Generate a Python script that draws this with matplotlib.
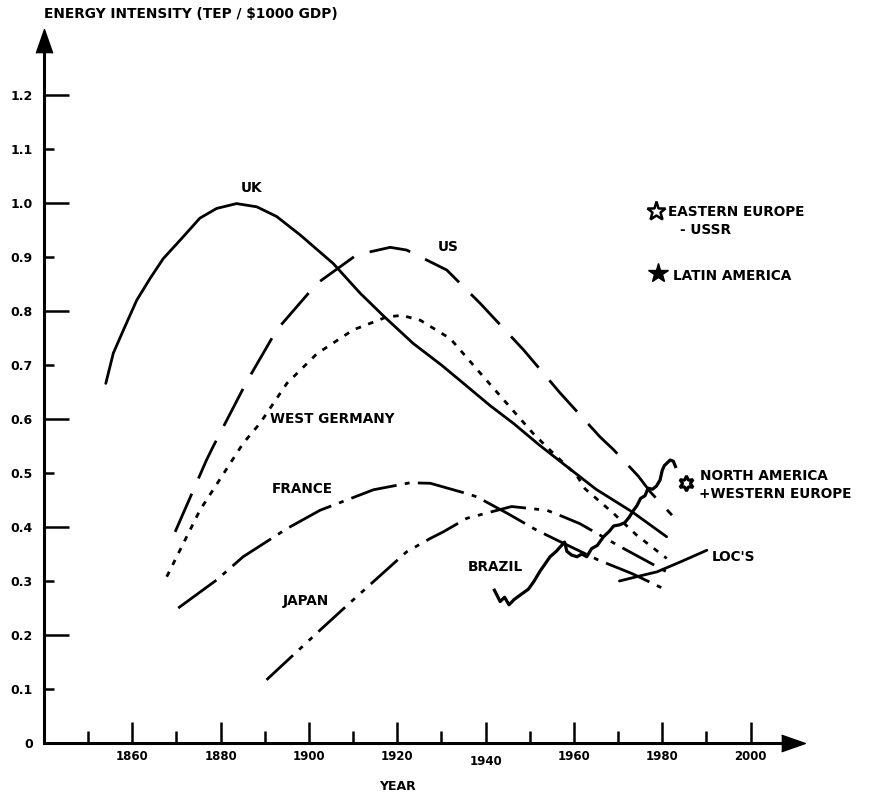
import matplotlib
matplotlib.use("Agg")
import matplotlib.pyplot as plt

# values (year, TEP / $1000 GDP)
uk_year = [1854.0, 1855.7, 1858.0, 1861.0, 1864.0, 1867.0, 1870.8, 1875.3, 1879.1,
           1883.6, 1888.2, 1892.7, 1898.0, 1905.5, 1911.6, 1917.0, 1923.6, 1930.0,
           1935.0, 1941.0, 1946.3, 1952.0, 1958.4, 1965.0, 1973.2, 1981.0]
uk_val = [0.666, 0.722, 0.765, 0.820, 0.860, 0.897, 0.931, 0.972, 0.990,
          0.999, 0.993, 0.975, 0.941, 0.888, 0.833, 0.790, 0.740, 0.700,
          0.666, 0.625, 0.592, 0.553, 0.512, 0.470, 0.428, 0.382]

us_year = [1869.7, 1876.8, 1878.3, 1885.9, 1892.7, 1901.8, 1910.8, 1918.4, 1922.1,
           1931.2, 1938.8, 1948.6, 1956.9, 1965.9, 1969.0, 1974.6, 1977.3, 1982.2]
us_val = [0.391, 0.524, 0.549, 0.669, 0.765, 0.851, 0.904, 0.918, 0.913,
          0.876, 0.814, 0.728, 0.648, 0.567, 0.543, 0.494, 0.465, 0.422]

wg_year = [1867.8, 1875.3, 1885.1, 1888.9, 1895.0, 1901.8, 1910.0, 1917.6, 1921.0,
           1925.2, 1932.0, 1938.8, 1944.8, 1950.8, 1955.4, 1960.6, 1962.5, 1969.0,
           1974.2, 1981.0]
wg_val = [0.308, 0.431, 0.555, 0.592, 0.666, 0.721, 0.765, 0.789, 0.792,
          0.783, 0.749, 0.685, 0.629, 0.573, 0.536, 0.496, 0.471, 0.425,
          0.385, 0.342]

fr_year = [1870.4, 1879.1, 1885.1, 1895.0, 1902.5, 1914.6, 1922.9, 1927.5, 1935.7,
           1938.0, 1945.0, 1951.6, 1956.1, 1965.5, 1973.1, 1981.0]
fr_val = [0.250, 0.302, 0.345, 0.397, 0.431, 0.469, 0.482, 0.481, 0.462,
          0.456, 0.425, 0.394, 0.376, 0.339, 0.314, 0.283]

jp_year = [1890.4, 1902.5, 1910.0, 1922.1, 1927.5, 1930.4, 1935.7, 1940.3, 1945.9,
           1953.9, 1957.6, 1961.4, 1970.4, 1981.0]
jp_val = [0.117, 0.209, 0.265, 0.354, 0.379, 0.391, 0.416, 0.426, 0.438,
          0.431, 0.419, 0.406, 0.364, 0.317]

br_year = [1942.0, 1943.3, 1944.3, 1945.3, 1946.5, 1948.0, 1949.7, 1951.0, 1952.3,
           1953.5, 1954.6, 1956.0, 1957.2, 1957.9, 1958.4, 1959.5, 1960.7, 1961.8,
           1962.9, 1964.0, 1965.3, 1966.7, 1968.0, 1969.0, 1970.3, 1971.5, 1972.5,
           1973.5, 1974.3, 1975.1, 1976.1, 1976.8, 1977.8, 1978.7, 1979.5, 1980.0,
           1980.5, 1981.8, 1982.5, 1983.0]
br_val = [0.283, 0.262, 0.270, 0.256, 0.266, 0.275, 0.285, 0.300, 0.318,
          0.332, 0.345, 0.355, 0.366, 0.372, 0.355, 0.348, 0.345, 0.350,
          0.345, 0.360, 0.366, 0.382, 0.392, 0.402, 0.404, 0.408, 0.418,
          0.431, 0.440, 0.453, 0.458, 0.472, 0.470, 0.476, 0.487, 0.505,
          0.514, 0.524, 0.522, 0.512]

loc_year = [1970.3, 1974.2, 1978.8, 1984.0, 1990.1]
loc_val = [0.300, 0.308, 0.317, 0.335, 0.357]

# single regional points
ee_point = (1978.6, 0.985)
la_point = (1979.1, 0.870)
na_point = (1985.4, 0.481)

plt.rcParams['font.family'] = ['DejaVu Sans']
plt.rcParams['font.weight'] = 'bold'
plt.rcParams['lines.scale_dashes'] = False

fig = plt.figure(figsize=(8.69, 7.94), dpi=100)
ax = fig.add_axes((0.0506, 0.0642, 0.8619, 0.8841))
ax.set_xlim(1840, 2009.6)
ax.set_ylim(0, 1.30)

lw = 2.0
ax.plot(uk_year, uk_val, color='k', lw=lw, solid_capstyle='round')
ax.plot(us_year, us_val, color='k', lw=lw, dashes=(30, 12))
ax.plot(wg_year, wg_val, color='k', lw=lw, dashes=(4, 5.5))
ax.plot(fr_year, fr_val, color='k', lw=lw, dashes=(34, 6, 3.5, 6))
ax.plot(jp_year, jp_val, color='k', lw=lw, dashes=(26, 6, 3.5, 6, 3.5, 6))
ax.plot(br_year, br_val, color='k', lw=2.3, solid_joinstyle='round')
ax.plot(loc_year, loc_val, color='k', lw=lw, solid_capstyle='round')

ax.plot(*ee_point, marker='*', ms=14, mfc='white', mec='k', mew=1.8, ls='none')
ax.plot(*la_point, marker='*', ms=15, mfc='k', mec='k', ls='none')
ax.plot(*na_point, marker=(6, 1, 0), ms=11, mfc='white', mec='k', mew=2.2, ls='none')

fs = 9.8
ax.text(1886.9, 1.028, "UK", ha='center', va='center', fontsize=fs)
ax.text(1931.5, 0.918, "US", ha='center', va='center', fontsize=fs)
ax.text(1891.2, 0.600, "WEST GERMANY", ha='left', va='center', fontsize=fs)
ax.text(1891.6, 0.470, "FRANCE", ha='left', va='center', fontsize=fs)
ax.text(1894.1, 0.263, "JAPAN", ha='left', va='center', fontsize=fs)
ax.text(1936.0, 0.326, "BRAZIL", ha='left', va='center', fontsize=fs)
ax.text(1991.1, 0.344, "LOC'S", ha='left', va='center', fontsize=fs)
ax.text(1981.3, 0.983, "EASTERN EUROPE", ha='left', va='center', fontsize=fs)
ax.text(1984.1, 0.950, "- USSR", ha='left', va='center', fontsize=fs)
ax.text(1982.5, 0.865, "LATIN AMERICA", ha='left', va='center', fontsize=fs)
ax.text(1988.6, 0.494, "NORTH AMERICA", ha='left', va='center', fontsize=fs)
ax.text(1988.4, 0.461, "+WESTERN EUROPE", ha='left', va='center', fontsize=fs)

# axes: only left and bottom, with arrow heads
for s in ('top', 'right'):
    ax.spines[s].set_visible(False)
for s in ('left', 'bottom'):
    ax.spines[s].set_linewidth(2.2)
ax.plot(1, 0, marker=[(-1, -0.7), (1, 0), (-1, 0.7)], ms=17, color='k',
        transform=ax.transAxes, clip_on=False)
ax.plot(0, 1, marker=[(-0.7, -1), (0, 1), (0.7, -1)], ms=17, color='k',
        transform=ax.transAxes, clip_on=False)

major_x = [1860, 1880, 1900, 1920, 1940, 1960, 1980, 2000]
minor_x = [1850, 1870, 1890, 1910, 1930, 1950, 1970, 1990]
ax.set_xticks(major_x, [str(y) for y in major_x])
ax.set_xticks(minor_x, minor=True)
major_y = [0, 0.2, 0.4, 0.6, 0.8, 1.0, 1.2]
minor_y = [0.1, 0.3, 0.5, 0.7, 0.9, 1.1]
ax.set_yticks(major_y, ['0', '0.2', '0.4', '0.6', '0.8', '1.0', '1.2'])
ax.set_yticks(minor_y, ['0.1', '0.3', '0.5', '0.7', '0.9', '1.1'], minor=True)

ax.tick_params(axis='x', which='major', direction='in', length=15, width=1.8,
               pad=5, labelsize=8.5)
ax.tick_params(axis='x', which='minor', direction='in', length=8.5, width=1.8)
ax.tick_params(axis='y', which='major', direction='in', length=18, width=1.8,
               pad=8, labelsize=9)
ax.tick_params(axis='y', which='minor', direction='in', length=7, width=1.8,
               pad=8, labelsize=9)
for t in ax.xaxis.get_major_ticks():
    if t.get_loc() == 1940:
        t.set_pad(8.5)

fig.text(44 / 869, 1 - 14 / 794, "ENERGY INTENSITY (TEP / $1000 GDP)",
         ha='left', va='center', fontsize=9.9)
fig.text(397 / 869, 1 - 786 / 794, "YEAR", ha='center', va='center', fontsize=9)

fig.savefig('out.png', dpi=100)
